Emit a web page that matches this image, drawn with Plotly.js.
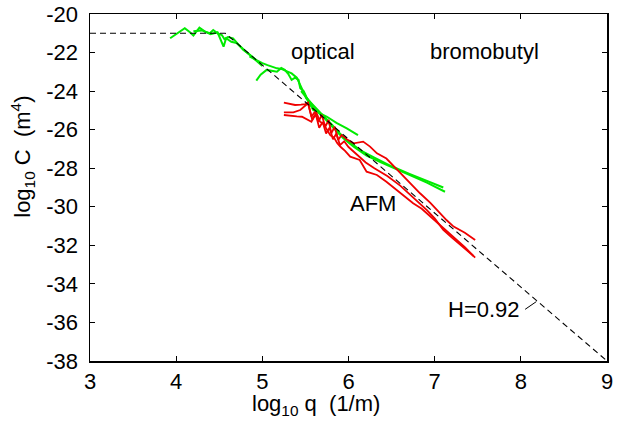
<!DOCTYPE html>
<html>
<head>
<meta charset="utf-8">
<script src="https://cdn.plot.ly/plotly-3.0.1.min.js"></script>
<style>html,body{margin:0;padding:0;background:#fff;}#chart{width:640px;height:421px;}</style>
</head>
<body>
<div id="chart"></div>
<script>
// ---- data (log10 q, log10 C) ----
const fitX = [3, 4.57, 9];
const fitY = [-21, -21, -38];

const markX = [8.05, 8.18];
const markY = [-35.32, -34.92];

const opt1X = [3.93, 4.02, 4.10, 4.16, 4.20, 4.27, 4.33, 4.39, 4.43, 4.48, 4.53, 4.56, 4.60, 4.66, 4.72, 4.78, 4.85, 4.93];
const opt1Y = [-21.26, -21.0, -20.74, -20.95, -21.12, -20.71, -20.9, -21.0, -20.83, -21.0, -21.09, -21.3, -21.2, -21.26, -21.55, -21.87, -22.1, -22.39];

const opt2X = [4.20, 4.30, 4.40, 4.48, 4.55, 4.58, 4.64, 4.70, 4.80, 4.90, 5.00];
const opt2Y = [-20.9, -20.85, -21.05, -20.95, -21.69, -21.26, -21.44, -21.5, -21.9, -22.3, -22.7];

const opt3X = [4.93, 4.98, 5.05, 5.11, 5.17, 5.22, 5.26, 5.30, 5.34, 5.38, 5.42, 5.44, 5.48, 5.51, 5.55, 5.59, 5.67, 5.75, 5.86, 5.98, 6.11];
const opt3Y = [-23.46, -23.15, -22.9, -22.95, -22.99, -22.8, -22.9, -23.1, -23.42, -23.3, -23.42, -23.85, -24.0, -24.29, -24.6, -24.98, -25.15, -25.33, -25.65, -25.93, -26.28];

const opt4X = [4.85, 4.93, 5.0, 5.06, 5.12, 5.17, 5.22, 5.28, 5.34, 5.40, 5.44, 5.51, 5.58];
const opt4Y = [-22.2, -22.39, -22.55, -22.65, -22.75, -22.82, -22.85, -22.95, -23.08, -23.3, -23.68, -24.37, -24.85];

const opt5X = [5.45, 5.55, 5.62, 5.70, 5.78, 5.86, 5.94, 6.06, 6.21, 6.37, 6.52, 6.71, 6.91, 7.12];
const opt5Y = [-24.0, -24.55, -25.0, -25.3, -25.7, -26.1, -26.45, -26.88, -27.35, -27.68, -27.98, -28.35, -28.75, -29.22];

const opt6X = [5.5, 5.6, 5.7, 5.8, 5.9, 6.0, 6.15, 6.3, 6.5, 6.7, 6.9, 7.10];
const opt6Y = [-24.3, -24.8, -25.25, -25.7, -26.2, -26.62, -27.1, -27.45, -27.9, -28.28, -28.62, -29.0];

const afm1X = [5.25, 5.32, 5.38, 5.45, 5.50, 5.53, 5.57, 5.61, 5.65, 5.69, 5.73, 5.77, 5.80, 5.84, 5.88, 5.92, 5.98, 6.06, 6.17, 6.25, 6.33, 6.44, 6.60, 6.72, 6.83, 6.95, 7.06, 7.14, 7.22, 7.35, 7.47];
const afm1Y = [-24.6, -24.68, -24.72, -24.7, -24.67, -24.6, -25.33, -25.07, -25.59, -25.24, -25.85, -25.5, -26.19, -25.85, -26.54, -26.28, -26.5, -26.71, -26.62, -26.88, -27.23, -27.5, -28.26, -28.8, -29.3, -29.8, -30.34, -30.7, -31.03, -31.35, -31.72];

const afm2X = [5.25, 5.30, 5.36, 5.44, 5.50, 5.53, 5.58, 5.62, 5.66, 5.70, 5.74, 5.78, 5.82, 5.86, 5.90, 5.95, 6.0, 6.1, 6.2, 6.3, 6.45, 6.60, 6.75, 6.91, 7.0, 7.10, 7.2, 7.3, 7.45];
const afm2Y = [-25.1, -25.1, -25.1, -24.98, -24.75, -24.63, -25.5, -25.2, -25.9, -25.6, -26.2, -25.9, -26.5, -26.2, -26.8, -26.6, -26.9, -27.3, -27.7, -28.0, -28.4, -28.9, -29.5, -30.17, -30.6, -31.2, -31.6, -32.0, -32.55];

const afm3X = [5.25, 5.32, 5.40, 5.46, 5.52, 5.57, 5.60, 5.63, 5.67, 5.71, 5.75, 5.79, 5.83, 5.87, 5.91, 5.96, 6.02, 6.13, 6.21, 6.33, 6.44, 6.55, 6.65, 6.75, 6.85, 6.95, 7.05, 7.14, 7.25, 7.35, 7.47];
const afm3Y = [-25.24, -25.29, -25.31, -25.33, -25.45, -25.59, -25.3, -25.15, -25.59, -25.7, -26.0, -26.3, -26.4, -26.7, -26.9, -27.1, -27.4, -27.57, -28.18, -28.35, -28.7, -29.1, -29.45, -29.82, -30.1, -30.5, -30.95, -31.29, -31.7, -32.1, -32.64];

const xTicks = [3, 4, 5, 6, 7, 8, 9];
const xTickText = ['3', '4', '5', '6', '7', '8', '9'];
const yTicks = [-20, -22, -24, -26, -28, -30, -32, -34, -36, -38];
const yTickText = ['-20', '-22', '-24', '-26', '-28', '-30', '-32', '-34', '-36', '-38'];

const labels = [
  {text: 'optical', x: 5.70, y: -21.97},
  {text: 'bromobutyl', x: 7.58, y: -21.97},
  {text: 'AFM', x: 6.28, y: -29.85},
  {text: 'H=0.92', x: 7.57, y: -35.35}
];

// ---- build ----
const GREEN = 'rgb(0,235,0)';
const RED = 'rgb(240,0,0)';
const FONT = 'Liberation Sans, Arial, sans-serif';

function line(x, y, color, width, dash) {
  return {x: x, y: y, type: 'scatter', mode: 'lines', hoverinfo: 'skip',
    line: {color: color, width: width, dash: dash || 'solid'}};
}

const traces = [
  line(opt1X, opt1Y, GREEN, 2),
  line(opt2X, opt2Y, GREEN, 2),
  line(opt3X, opt3Y, GREEN, 2),
  line(opt4X, opt4Y, GREEN, 2),
  line(opt5X, opt5Y, GREEN, 2),
  line(opt6X, opt6Y, GREEN, 2),
  line(afm1X, afm1Y, RED, 1.8),
  line(afm2X, afm2Y, RED, 1.8),
  line(afm3X, afm3Y, RED, 1.8),
  line(fitX, fitY, 'black', 1.1, '6px,4px'),
  line(markX, markY, 'black', 1)
];

const annotations = labels.map(l => ({
  text: l.text, x: l.x, y: l.y, xref: 'x', yref: 'y', showarrow: false,
  xanchor: 'center', yanchor: 'middle', font: {family: FONT, size: 22, color: 'black'}
}));
annotations.push({
  text: 'log<sub>10</sub> q\u00a0\u00a0(1/m)', xref: 'paper', yref: 'paper',
  x: 0.437, y: -0.128, xanchor: 'center', yanchor: 'middle', showarrow: false,
  font: {family: FONT, size: 22, color: 'black'}
});
annotations.push({
  text: 'log<sub>10</sub> C\u00a0\u00a0(m<sup>4</sup>)', xref: 'paper', yref: 'paper',
  x: -0.13, y: 0.588, xanchor: 'center', yanchor: 'middle', showarrow: false,
  textangle: -90, font: {family: FONT, size: 22, color: 'black'}
});

const axisCommon = {
  showgrid: false, zeroline: false, showline: true, linecolor: 'black', linewidth: 1.5,
  mirror: 'allticks', ticks: 'inside', ticklen: 5, tickwidth: 1.2, tickcolor: 'black',
  tickfont: {family: FONT, size: 22, color: 'black'}, tickmode: 'array'
};

const layout = {
  width: 640, height: 421,
  margin: {l: 90, r: 33, t: 14, b: 60, pad: 0},
  paper_bgcolor: 'white', plot_bgcolor: 'white',
  showlegend: false,
  xaxis: Object.assign({}, axisCommon, {range: [3, 9], tickvals: xTicks, ticktext: xTickText, ticklabelstandoff: 0}),
  yaxis: Object.assign({}, axisCommon, {range: [-38, -20], tickvals: yTicks, ticktext: yTickText, ticklabelstandoff: 6}),
  annotations: annotations
};

Plotly.newPlot('chart', traces, layout, {staticPlot: true, displayModeBar: false});
</script>
</body>
</html>
